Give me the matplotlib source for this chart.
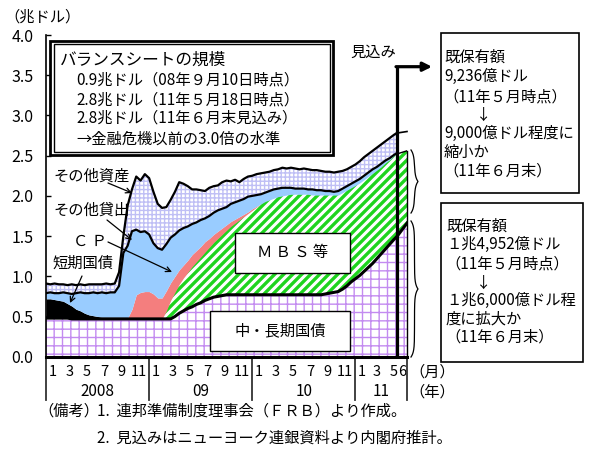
import numpy as np
import matplotlib
matplotlib.use("Agg")
import matplotlib.pyplot as plt
from matplotlib.patches import Rectangle, Polygon
from matplotlib.collections import LineCollection
from matplotlib.transforms import IdentityTransform

plt.rcParams['font.family'] = ['Noto Sans CJK JP', 'DejaVu Sans']

# ---------------- data (trillion USD) ----------------
# observation points: months since 2008-01-01 (semi-monthly readings, last = 2011-05-18)
t_month = np.append(np.arange(0, 41, 0.5), 40.8)

treasury = [0.48, 0.48, 0.48, 0.48, 0.48, 0.48, 0.47, 0.47, 0.47, 0.47, 0.47, 0.47,
            0.47, 0.47, 0.47, 0.47, 0.47, 0.47, 0.47, 0.47, 0.47, 0.47, 0.47, 0.47,
            0.47, 0.47, 0.47, 0.47, 0.47, 0.47, 0.50, 0.54, 0.57, 0.60, 0.62, 0.65,
            0.67, 0.70, 0.72, 0.74, 0.75, 0.76, 0.77, 0.77, 0.77, 0.77, 0.77, 0.77,
            0.77, 0.77, 0.77, 0.77, 0.77, 0.77, 0.77, 0.77, 0.77, 0.77, 0.77, 0.77,
            0.77, 0.77, 0.77, 0.77, 0.77, 0.78, 0.79, 0.80, 0.81, 0.84, 0.88, 0.93,
            0.97, 1.01, 1.06, 1.11, 1.16, 1.22, 1.28, 1.34, 1.40, 1.46, 1.49]
bills = [0.24, 0.24, 0.23, 0.22, 0.21, 0.18, 0.16, 0.12, 0.10, 0.07, 0.05, 0.04,
         0.03, 0.02, 0.02, 0.02, 0.02, 0.02, 0.02, 0.01, 0.00, 0.00, 0.00, 0.00,
         0, 0, 0, 0, 0, 0, 0, 0, 0, 0, 0, 0, 0, 0, 0, 0, 0, 0, 0, 0, 0, 0, 0, 0,
         0, 0, 0, 0, 0, 0, 0, 0, 0, 0, 0, 0, 0, 0, 0, 0, 0, 0, 0, 0, 0, 0, 0, 0,
         0, 0, 0, 0, 0, 0, 0, 0, 0, 0, 0]
mbs = [0, 0, 0, 0, 0, 0, 0, 0, 0, 0, 0, 0, 0, 0, 0, 0, 0, 0, 0, 0, 0, 0, 0, 0,
       0.00, 0.00, 0.00, 0.00, 0.10, 0.23, 0.30, 0.36, 0.41, 0.45, 0.50, 0.53,
       0.57, 0.60, 0.64, 0.68, 0.72, 0.76, 0.80, 0.85, 0.89, 0.93, 0.97, 1.01,
       1.05, 1.09, 1.13, 1.16, 1.18, 1.20, 1.22, 1.23, 1.24, 1.25, 1.25, 1.25,
       1.25, 1.25, 1.24, 1.24, 1.24, 1.23, 1.22, 1.21, 1.20, 1.20, 1.19, 1.17,
       1.16, 1.15, 1.14, 1.13, 1.12, 1.10, 1.08, 1.07, 1.05, 1.04, 1.03]
cp = [0, 0, 0, 0, 0, 0, 0, 0, 0, 0, 0, 0, 0, 0, 0, 0, 0, 0, 0, 0,
      0.12, 0.30, 0.33, 0.34,
      0.34, 0.31, 0.26, 0.26, 0.25, 0.22, 0.20, 0.18, 0.16, 0.15, 0.15, 0.14,
      0.13, 0.13, 0.11, 0.10, 0.09, 0.08, 0.07, 0.06, 0.05, 0.04, 0.03, 0.02,
      0.02, 0.01, 0, 0, 0, 0, 0, 0, 0, 0, 0, 0, 0, 0, 0, 0, 0, 0, 0, 0, 0, 0,
      0, 0, 0, 0, 0, 0, 0, 0, 0, 0, 0, 0, 0]
other_loans = [0.07, 0.08, 0.08, 0.09, 0.11, 0.13, 0.15, 0.20, 0.23, 0.25, 0.27, 0.29,
               0.29, 0.31, 0.30, 0.31, 0.31, 0.39, 0.80, 0.90, 0.97, 0.81, 0.75, 0.75,
               0.71, 0.63, 0.62, 0.60, 0.58, 0.56, 0.52, 0.49, 0.46, 0.42, 0.38, 0.35,
               0.33, 0.29, 0.28, 0.27, 0.26, 0.24, 0.22, 0.22, 0.21, 0.20, 0.19, 0.19,
               0.16, 0.14, 0.12, 0.11, 0.11, 0.11, 0.10, 0.10, 0.09, 0.08, 0.07, 0.07,
               0.07, 0.06, 0.07, 0.06, 0.06, 0.05, 0.05, 0.04, 0.05, 0.05, 0.05, 0.05,
               0.05, 0.05, 0.05, 0.05, 0.05, 0.04, 0.04, 0.03, 0.02, 0.01, 0.01]
other_assets = [0.12, 0.10, 0.12, 0.11, 0.10, 0.10, 0.12, 0.10, 0.10, 0.10, 0.11, 0.10,
                0.11, 0.10, 0.12, 0.10, 0.11, 0.17, 0.21, 0.50, 0.52, 0.66, 0.64, 0.71,
                0.70, 0.64, 0.55, 0.52, 0.46, 0.47, 0.53, 0.60, 0.55, 0.50, 0.43, 0.41,
                0.37, 0.34, 0.35, 0.33, 0.31, 0.33, 0.33, 0.28, 0.28, 0.23, 0.25, 0.25,
                0.25, 0.26, 0.26, 0.25, 0.24, 0.24, 0.24, 0.25, 0.24, 0.25, 0.25, 0.24,
                0.25, 0.25, 0.24, 0.25, 0.24, 0.24, 0.24, 0.24, 0.24, 0.22, 0.21, 0.21,
                0.21, 0.22, 0.23, 0.23, 0.23, 0.24, 0.24, 0.24, 0.25, 0.25, 0.25]

# projection to end of June 2011
proj_t = [40.8, 42.0]
proj_treasury = [1.49, 1.66]
proj_mbs = [1.03, 0.90]
proj_total = [2.78, 2.80]

year_starts = [0, 12, 24, 36, 42]
year_labels = ['2008', '09', '10', '11']
month_labels = [['1', '3', '5', '7', '9', '11'], ['1', '3', '5', '7', '9', '11'],
                ['1', '3', '5', '7', '9', '11'], ['1', '3', '5', '6']]
y_ticks = [0.0, 0.5, 1.0, 1.5, 2.0, 2.5, 3.0, 3.5, 4.0]

# ---------------- figure ----------------
W, H = 594, 455
fig = plt.figure(figsize=(W / 100, H / 100), dpi=100)
ax = fig.add_axes([46 / W, 1 - 356.7 / H, (407 - 46) / W, (356.7 - 35) / H])
ax.set_xlim(0, 42)
ax.set_ylim(0, 4.0)
for s in ['top', 'right']:
    ax.spines[s].set_visible(False)
ax.spines['left'].set_linewidth(1.2)
ax.spines['bottom'].set_linewidth(2.2)
ax.spines['bottom'].set_zorder(7)
ax.set_xticks([])
ax.set_yticks(y_ticks)
ax.set_yticklabels([f'{v:.1f}' for v in y_ticks])
ax.tick_params(axis='y', direction='in', length=3.5, width=1, labelsize=11.5, pad=9)


def P(x, y):
    """pixel (from top-left) -> data coordinates"""
    return ax.transData.inverted().transform((x, H - y))


t = t_month
l1 = np.array(treasury)
l2 = l1 + np.array(bills)
l3 = l2 + np.array(mbs)
l4 = l3 + np.array(cp)
l5 = l4 + np.array(other_loans)
l6 = l5 + np.array(other_assets)

PURPLE = '#C38BF0'
LAV = '#BFBFF5'
GREEN = '#1ED41E'
BLUE = '#99CCFF'
SALMON = '#F47E7E'


def green_stripes(xs, lo, hi):
    xs = np.asarray(xs, float)
    lo = np.asarray(lo, float)
    hi = np.asarray(hi, float)
    verts = np.vstack([np.column_stack([xs, lo]), np.column_stack([xs[::-1], hi[::-1]])])
    poly = Polygon(verts, closed=True, facecolor='white', edgecolor='none', zorder=2)
    ax.add_patch(poly)
    (x0, y0), (x1, y1) = ax.transAxes.transform([(0, 0), (1, 1)])
    h = y1 - y0
    segs = [[(c, y0), (c + h, y1)] for c in np.arange(x0 - h, x1 + 10, 9.0)]
    lc = LineCollection(segs, colors=GREEN, linewidths=2.4,
                        transform=IdentityTransform(), zorder=2.1)
    lc.set_clip_path(poly)
    ax.add_collection(lc, autolim=False)


# treasury (mid/long term)
ax.fill_between(t, 0, l1, facecolor='white', edgecolor=PURPLE, hatch='++', linewidth=0, zorder=1)
ax.fill_between(proj_t, 0, proj_treasury, facecolor='white', edgecolor=PURPLE, hatch='++',
                linewidth=0, zorder=1)
# bills
ax.fill_between(t, l1, l2, color='black', linewidth=0, zorder=2)
# MBS
green_stripes(t, l2, l3)
pt = np.array(proj_treasury)
green_stripes(proj_t, pt, pt + np.array(proj_mbs))
# CP
ax.fill_between(t, l3, l4, color=SALMON, linewidth=0, zorder=2.2)
# other loans
ax.fill_between(t, l4, l5, color=BLUE, linewidth=0, zorder=2.2)
# other assets
ax.fill_between(t, l5, l6, facecolor='white', edgecolor=LAV, hatch='++++', linewidth=0, zorder=2.2)

# outlines
ax.plot(t, l1, color='k', lw=2.2, zorder=3, solid_joinstyle='round')
ax.plot(t, l5, color='k', lw=1.6, zorder=3, solid_joinstyle='round')
ax.plot(t, l6, color='k', lw=1.6, zorder=3, solid_joinstyle='round')
ax.plot(proj_t, proj_treasury, color='k', lw=2.2, zorder=3)
ax.plot(proj_t, pt + np.array(proj_mbs), color='k', lw=1.0, zorder=3)
ax.plot([proj_t[1], proj_t[1]], [0, proj_treasury[1] + proj_mbs[1]], color='k', lw=1.0, zorder=3,
        clip_on=False)
ax.plot(proj_t, proj_total, color='k', lw=1.2, zorder=3, clip_on=False)

# projection marker line + arrow
ya = P(0, 66.7)[1]
xa = P(432, 0)[0]
ax.plot([proj_t[0], proj_t[0]], [0, ya], color='k', lw=2.3, zorder=6, clip_on=False,
        solid_capstyle='butt')
ax.annotate('', xy=(xa, ya), xytext=(proj_t[0] - 0.08, ya), annotation_clip=False,
            arrowprops=dict(arrowstyle='-|>', color='k', lw=2.3, mutation_scale=13,
                            shrinkA=0, shrinkB=0), zorder=6)
ax.text(*P(373.5, 52), '見込み', fontsize=11, ha='center', va='center', zorder=6)

# in-plot boxes
def data_box(x0p, y0p, x1p, y1p, label):
    (a, b) = P(x0p, y1p)
    (c, d) = P(x1p, y0p)
    ax.add_patch(Rectangle((a, b), c - a, d - b, facecolor='white', edgecolor='k', lw=1.0, zorder=5))
    ax.text((a + c) / 2, (b + d) / 2, label, fontsize=11, ha='center', va='center', zorder=6)

data_box(235, 232.5, 350, 273, 'Ｍ Ｂ Ｓ 等')
data_box(210, 310.5, 350, 351, '中・長期国債')

# labels with arrows
ap = dict(arrowstyle='->', color='k', lw=0.9, shrinkA=0, shrinkB=0, mutation_scale=9)
ax.text(*P(53, 176), 'その他資産', fontsize=11, ha='left', va='center', zorder=6)
ax.annotate('', xy=P(132, 193), xytext=P(108, 183), arrowprops=ap, zorder=6)
ax.text(*P(53, 210), 'その他貸出', fontsize=11, ha='left', va='center', zorder=6)
ax.annotate('', xy=P(132, 240), xytext=P(107, 220), arrowprops=ap, zorder=6)
ax.text(*P(90, 241), 'Ｃ Ｐ', fontsize=11, ha='center', va='center', zorder=6)
ax.annotate('', xy=P(172, 272), xytext=P(108, 242), arrowprops=ap, zorder=6)
ax.text(*P(53, 263), '短期国債', fontsize=11, ha='left', va='center', zorder=6)
ax.annotate('', xy=P(70, 303), xytext=P(82, 276), arrowprops=ap, zorder=6)

# braces on the right
def brace(xp0, xp1, yp_top, yp_bot):
    x0, y_top = P(xp0, yp_top)
    x1, y_bot = P(xp1, yp_bot)
    w = x1 - x0
    mid = (y_top + y_bot) / 2
    hh = abs(yp_bot - yp_top) / 2
    k = 5.0 / hh
    s = np.linspace(0, 1, 200)
    half = lambda u: w * 0.5 * (1 - np.exp(-u / k)) + w * 0.5 * np.exp(-(1 - u) / k)
    xs = np.r_[x0 + half(s), x0 + half(1 - s)]
    ys = np.r_[y_top + (mid - y_top) * s, mid + (y_bot - mid) * s]
    ax.plot(xs, ys, color='k', lw=0.9, clip_on=False, zorder=6)

brace(411, 418, 150, 213)
brace(411, 418, 221, 357)

# x axis: separators, month and year labels
y_sep = P(0, 400)[1]
for xs in year_starts:
    ax.plot([xs, xs], [0, y_sep], color='#333333', lw=1.3, clip_on=False, zorder=7)
y_m = P(0, 372)[1]
y_y = P(0, 392)[1]
last_year_pos = {'1': 36.7, '3': 38.45, '5': 40.45, '6': 41.45}
for i, labs in enumerate(month_labels):
    start = year_starts[i]
    for lab in labs:
        m = int(lab)
        if start == 36:
            pos = last_year_pos[lab]
        else:
            pos = start + m - 0.25
        ax.text(pos, y_m, lab, fontsize=10.5, ha='center', va='center', clip_on=False)
    ax.text((year_starts[i] + year_starts[i + 1]) / 2, y_y, year_labels[i], fontsize=11,
            ha='center', va='center', clip_on=False)
ax.text(P(409, 0)[0], y_m, '（月）', fontsize=11, ha='left', va='center', clip_on=False)
ax.text(P(409, 0)[0], y_y, '（年）', fontsize=11, ha='left', va='center', clip_on=False)

# ---------------- figure-level annotations ----------------
def ftext(x, y, s, size=11, ha='left'):
    fig.text(x / W, 1 - y / H, s, fontsize=size, ha=ha, va='center', zorder=10)

def frect(x0, y0, x1, y1, lw):
    fig.add_artist(Rectangle((x0 / W, 1 - y1 / H), (x1 - x0) / W, (y1 - y0) / H,
                             transform=fig.transFigure, facecolor='white', edgecolor='k',
                             lw=lw, zorder=8))

ftext(4, 17, '（兆ドル）')

# summary box (double border)
frect(50, 40.7, 333.3, 155, 2.0)
fig.add_artist(Rectangle((54 / W, 1 - 151.7 / H), (330 - 54) / W, (151.7 - 44.3) / H,
                         transform=fig.transFigure, facecolor='none', edgecolor='k',
                         lw=1.0, zorder=9))
ftext(60, 60, 'バランスシートの規模', 12)
ftext(76, 80.5, '0.9兆ドル（08年９月10日時点）')
ftext(76, 99.5, '2.8兆ドル（11年５月18日時点）')
ftext(76, 118.5, '2.8兆ドル（11年６月末見込み）')
ftext(76, 139, '→金融危機以前の3.0倍の水準')

# right boxes
frect(441, 33, 579, 193, 1.2)
ftext(444, 57, '既保有額')
ftext(444, 76, '9,236億ドル')
ftext(443, 97, '（11年５月時点）')
ftext(484, 115, '↓', ha='center')
ftext(444, 133.5, '9,000億ドル程度に')
ftext(444, 152, '縮小か')
ftext(443, 171, '（11年６月末）')

frect(441, 203, 583, 362, 1.2)
ftext(446, 226, '既保有額')
ftext(446, 244.5, '１兆4,952億ドル')
ftext(445, 263.5, '（11年５月時点）')
ftext(484, 283, '↓', ha='center')
ftext(446, 300.5, '１兆6,000億ドル程')
ftext(446, 319, '度に拡大か')
ftext(445, 337.5, '（11年６月末）')

# notes
ftext(38, 411, '（備考）')
ftext(97, 411, '1.  連邦準備制度理事会（ＦＲＢ）より作成。')
ftext(97, 438, '2.  見込みはニューヨーク連銀資料より内閣府推計。')

fig.savefig('out.png', dpi=100)
